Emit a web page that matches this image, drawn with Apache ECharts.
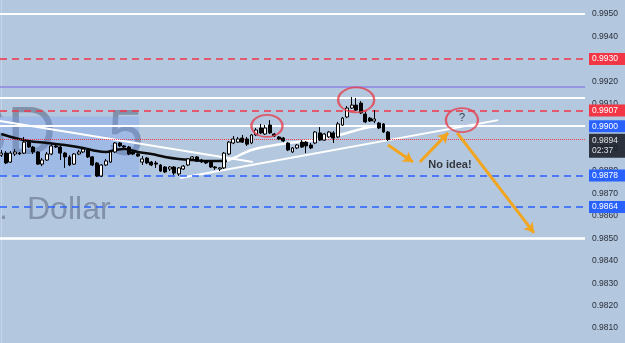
<!DOCTYPE html>
<html><head><meta charset="utf-8">
<script src="https://cdn.jsdelivr.net/npm/echarts@6/dist/echarts.min.js"></script>
<style>html,body{margin:0;padding:0;background:#b3c7df}#c{width:625px;height:343px}</style>
</head><body><div id="c"></div>
<script>
// ---- data (prices) ----
const candleIndex = Array.from({length: 86}, (_, i) => i);
const opens  = [.98871,.98880,.98840,.98876,.98880,.98880,.98929,.98907,.98885,.98831,.98849,.98876,.98912,.98907,.98880,.98863,.98831,.98876,.98885,.98894,.98863,.98836,.98778,.98827,.98840,.98885,.98925,.98912,.98907,.98885,.98876,.98840,.98858,.98840,.98836,.98827,.98818,.98809,.98818,.98787,.98809,.98827,.98854,.98863,.98849,.98845,.98840,.98818,.98809,.98814,.98876,.98925,.98929,.98947,.98943,.98925,.98961,.98992,.98965,.99005,.98965,.98952,.98947,.98925,.98885,.98903,.98929,.98929,.98916,.98925,.98970,.98938,.98952,.98970,.98952,.99005,.99041,.99081,.99094,.99103,.99054,.99036,.99023,.99014,.99010,.98974];
const closes = [.98880,.98836,.98880,.98885,.98876,.98929,.98907,.98885,.98831,.98849,.98876,.98912,.98907,.98880,.98863,.98827,.98876,.98885,.98898,.98863,.98827,.98778,.98827,.98845,.98885,.98925,.98912,.98907,.98876,.98876,.98867,.98854,.98836,.98827,.98831,.98800,.98796,.98818,.98791,.98814,.98822,.98854,.98863,.98845,.98840,.98836,.98818,.98814,.98814,.98880,.98929,.98943,.98943,.98929,.98920,.98961,.98983,.98970,.98992,.98970,.98956,.98943,.98934,.98894,.98903,.98916,.98907,.98912,.98903,.98974,.98938,.98965,.98974,.98947,.99010,.99036,.99081,.99094,.99072,.99059,.99019,.99023,.99032,.98992,.98974,.98940];
const lows   = [.98863,.98831,.98836,.98867,.98871,.98876,.98903,.98876,.98827,.98822,.98845,.98871,.98903,.98849,.98814,.98822,.98827,.98871,.98880,.98858,.98822,.98773,.98773,.98822,.98836,.98880,.98907,.98903,.98871,.98871,.98863,.98827,.98831,.98822,.98814,.98796,.98791,.98800,.98782,.98778,.98805,.98822,.98849,.98840,.98836,.98831,.98814,.98805,.98800,.98809,.98871,.98920,.98925,.98925,.98912,.98920,.98956,.98965,.98961,.98965,.98952,.98938,.98929,.98889,.98880,.98898,.98903,.98880,.98898,.98920,.98934,.98934,.98947,.98925,.98947,.99001,.99036,.99077,.99068,.99054,.99014,.99019,.99014,.98987,.98970,.98934];
const highs  = [.98894,.98889,.98889,.98898,.98885,.98952,.98938,.98912,.98889,.98858,.98885,.98925,.98920,.98912,.98885,.98871,.98880,.98894,.98903,.98898,.98867,.98840,.98831,.98854,.98889,.98929,.98929,.98916,.98912,.98889,.98880,.98867,.98863,.98845,.98845,.98831,.98822,.98822,.98822,.98818,.98827,.98858,.98867,.98867,.98854,.98849,.98845,.98822,.98818,.98885,.98934,.98956,.98952,.98961,.98952,.98965,.98992,.99010,.99005,.99027,.98970,.98956,.98952,.98929,.98907,.98920,.98938,.98934,.98925,.98978,.98996,.98970,.98978,.98978,.99019,.99041,.99090,.99130,.99126,.99112,.99063,.99041,.99072,.99019,.99014,.98978];

// moving average (drawn black then white)
const maBlackX = [0,3,6,10,14,18,21,23,25,27,30,33,36,39,42,46,49.6];
const maBlackY = [.98965,.98947,.98934,.98925,.98916,.98903,.98889,.98885,.98894,.98898,.98885,.98876,.98863,.98854,.98849,.98845,.98845];
const maWhiteX = [49.6,52,55,59,63,67,70,73,76,79,81,83.5];
const maWhiteY = [.98845,.98867,.98894,.98912,.98925,.98934,.98943,.98956,.98970,.98987,.98996,.99001];

// trend lines [x0, y0, x1, y1]
const trendDown = [-0.29, .99023, 55.3, .98840];
const trendUp   = [39.3, .98769, 109.2, .99027];

// horizontal levels
const whiteLevels = [0.9950, 0.99127, 0.9900, 0.9850];
const purpleLevel = 0.99178;
const redDashed   = [0.9930, 0.9907];
const blueDashed  = [0.9878, 0.9864];
const lastPrice   = 0.9894;
const lastTimer   = '02:37';
const yTicks = {min: 0.980, max: 0.996, step: 0.001};

// annotations
const highlightBox = [[-0.29, .99043], [30.3, .98780]];
const ellipseCenters = [[58.4, .99001], [78.0, .99117], [101.25, .99027]];
const arrows = [
  [[85.0, .98916], [90.5, .98840]],
  [[92.0, .98840], [98.2, .98970]],
  [[100.2, .98970], [117.1, .98524]]
];
const noteText = ['No idea!', 98.6, .98827];
const questionText = '?';

// ---- chart ----
const chart = echarts.init(document.getElementById('c'), null, {renderer: 'canvas'});
const FONT = 'Liberation Sans, Arial, sans-serif';
const RED = '#f23645', BLUE = '#2962ff', ORANGE = '#f2a51f';
const WM = 'rgba(55,65,88,0.40)';

function tag(bg, text, extra) {
  return Object.assign({
    show: true, position: 'end', distance: 4, formatter: text,
    backgroundColor: bg, color: '#fff', fontFamily: FONT, fontSize: 8.5,
    padding: [1, 9, 1, 3], lineHeight: 10
  }, extra || {});
}

const levelLines = [];
whiteLevels.forEach((v, i) => {
  const item = {yAxis: v, lineStyle: {color: '#ffffff', width: i === 3 ? 2.5 : 2, type: 'solid'}, label: {show: false}};
  if (v === 0.9900) item.label = tag(BLUE, v.toFixed(4));
  levelLines.push(item);
});
levelLines.push({yAxis: purpleLevel, lineStyle: {color: '#8d84e2', width: 1.5, type: 'solid'}, label: {show: false}});
redDashed.forEach(v => levelLines.push({yAxis: v, lineStyle: {color: RED, width: 1.5, type: [7, 5]}, label: tag(RED, v.toFixed(4))}));
blueDashed.forEach(v => levelLines.push({yAxis: v, lineStyle: {color: BLUE, width: 1.5, type: [7, 5]}, label: tag(BLUE, v.toFixed(4))}));

const candleData = candleIndex.map(i => [i, opens[i], closes[i], lows[i], highs[i]]);
const ellipseSizes = [[31, 22], [36, 25], [32, 24]];

const option = {
  backgroundColor: '#b3c7df',
  animation: false,
  grid: {left: 0, right: 40, top: -8.4, bottom: -7.5, containLabel: false, outerBoundsMode: 'none'},
  xAxis: {type: 'value', min: -0.286, max: 128.3, show: false},
  yAxis: {
    type: 'value', position: 'right', min: yTicks.min, max: yTicks.max, interval: yTicks.step,
    axisLine: {show: true, lineStyle: {color: 'rgba(255,255,255,0.25)', width: 1}},
    axisTick: {show: false}, splitLine: {show: false},
    axisLabel: {color: '#2a2e39', fontFamily: FONT, fontSize: 8.5, margin: 7, align: 'left',
      formatter: v => v.toFixed(4)}
  },
  graphic: [
    {type: 'text', z: -10, style: {x: 56, y: 169, text: 'USD', textAlign: 'right', textVerticalAlign: 'bottom',
      font: '68px Liberation Sans, Arial', fill: WM}},
    {type: 'text', z: -10, style: {x: 108, y: 169, text: '5', textAlign: 'left', textVerticalAlign: 'bottom',
      font: '64px Liberation Sans, Arial', fill: WM}},
    {type: 'text', z: -10, style: {x: 8, y: 226, text: 'U.S.', textAlign: 'right', textVerticalAlign: 'bottom',
      font: '32px Liberation Sans, Arial', fill: WM}},
    {type: 'text', z: -10, style: {x: 27, y: 226, text: 'Dollar', textAlign: 'left', textVerticalAlign: 'bottom',
      font: '32px Liberation Sans, Arial', fill: WM}}
  ],
  series: [
    {
      type: 'line', name: 'levels', z: 1, silent: true, showSymbol: false,
      data: candleIndex.map(i => [i, closes[i]]),
      lineStyle: {opacity: 0},
      markLine: {silent: true, precision: 6, symbol: ['none', 'none'], animation: false, data: levelLines},
      markArea: {silent: true, itemStyle: {color: 'rgba(110,155,245,0.30)'},
        data: [[{coord: highlightBox[0]}, {coord: highlightBox[1]}]]}
    },
    {
      type: 'line', name: 'lastPriceLine', z: 2, silent: true, showSymbol: false,
      data: candleIndex.map(i => [i, closes[i]]),
      lineStyle: {opacity: 0},
      markLine: {silent: true, precision: 6, symbol: ['none', 'none'], animation: false,
        lineStyle: {color: '#ff2030', width: 1, type: 'dotted', opacity: 0.85},
        data: [{yAxis: lastPrice,
          label: tag('#131722', lastPrice.toFixed(4) + '\n' + lastTimer, {padding: [2, 9, 2, 3], offset: [0, 6]})}]}
    },
    {
      type: 'line', name: 'trendDown', z: 3, silent: true, showSymbol: false,
      data: [[trendDown[0], trendDown[1]], [trendDown[2], trendDown[3]]],
      lineStyle: {color: '#ffffff', width: 2}
    },
    {
      type: 'line', name: 'trendUp', z: 3, silent: true, showSymbol: false,
      data: [[trendUp[0], trendUp[1]], [trendUp[2], trendUp[3]]],
      lineStyle: {color: '#ffffff', width: 2}
    },
    {
      type: 'line', name: 'maBlack', z: 4, silent: true, showSymbol: false, smooth: 0.4,
      data: maBlackX.map((x, i) => [x, maBlackY[i]]),
      lineStyle: {color: '#0b0b0b', width: 2.5}
    },
    {
      type: 'line', name: 'maWhite', z: 4, silent: true, showSymbol: false, smooth: 0.4,
      data: maWhiteX.map((x, i) => [x, maWhiteY[i]]),
      lineStyle: {color: '#ffffff', width: 2.5}
    },
    {
      type: 'candlestick', name: 'price', z: 5, silent: true,
      encode: {x: 0, y: [1, 2, 3, 4]},
      barWidth: 3.4,
      data: candleData,
      itemStyle: {color: '#ffffff', color0: '#000000', borderColor: '#000000', borderColor0: '#000000', borderWidth: 1}
    },
    {
      type: 'scatter', name: 'ellipses', z: 6, silent: true,
      data: ellipseCenters.map((c, i) => ({value: c, symbolSize: ellipseSizes[i],
        label: i === 2 ? {show: true, formatter: questionText, position: 'inside', color: '#111',
          fontFamily: FONT, fontSize: 11, offset: [0, -2]} : {show: false}})),
      symbol: 'circle',
      itemStyle: {color: 'rgba(0,0,0,0)', borderColor: '#e5404e', borderWidth: 2}
    },
    {
      type: 'line', name: 'arrows', data: [], z: 7, silent: true,
      markLine: {silent: true, precision: 6, symbol: ['none', 'arrow'], symbolSize: [9, 10], animation: false,
        lineStyle: {color: ORANGE, width: 3, type: 'solid'}, label: {show: false},
        data: arrows.map(a => [{coord: a[0]}, {coord: a[1]}])}
    },
    {
      type: 'scatter', name: 'note', z: 7, silent: true, symbolSize: 0,
      data: [[noteText[1], noteText[2]]],
      label: {show: true, formatter: noteText[0], position: 'inside', color: '#111',
        fontFamily: FONT, fontSize: 11, fontWeight: 'bold'}
    }
  ]
};
chart.setOption(option);
</script></body></html>
